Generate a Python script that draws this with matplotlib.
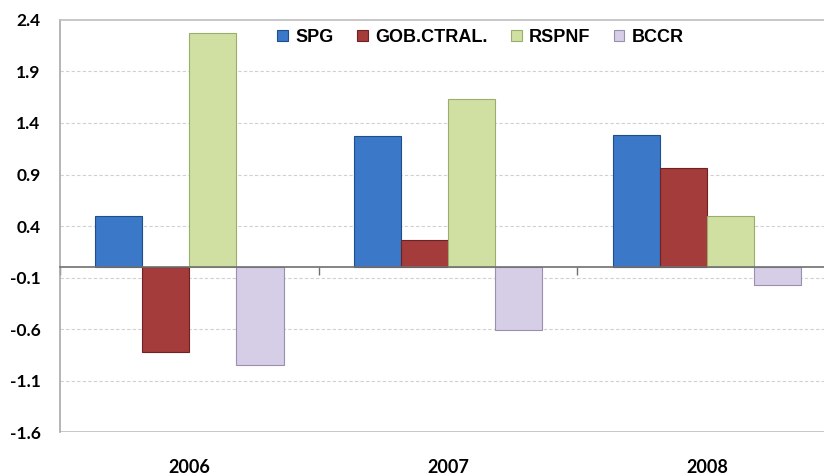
import matplotlib.pyplot as plt
import numpy as np

years = ['2006', '2007', '2008']
series = ['SPG', 'GOB.CTRAL.', 'RSPNF', 'BCCR']
spg = [0.50, 1.27, 1.28]
gob = [-0.82, 0.26, 0.96]
rspnf = [2.27, 1.63, 0.50]
bccr = [-0.95, -0.61, -0.17]

colors = ['#3b78c8', '#a33c3b', '#d0e0a2', '#d6cde6']
edges = ['#1f4e8c', '#6e2222', '#9aae6c', '#9a8fb0']

yticks = np.arange(-1.6, 2.41, 0.5)

fig = plt.figure(figsize=(8.24, 4.76), dpi=100)
# the plot area runs past the right edge of the picture, as in the original
ax = fig.add_axes([0.0728, 0.0924, 0.942, 0.8656])

x = np.arange(len(years))
w = 0.182
for i, vals in enumerate([spg, gob, rspnf, bccr]):
    ax.bar(x + (i - 1.5) * w, vals, w, color=colors[i], edgecolor=edges[i],
           linewidth=0.8, label=series[i], zorder=3)

ax.set_xlim(-0.5, 2.5)
ax.set_ylim(-1.6, 2.4)
ax.set_yticks(yticks)
ax.set_yticklabels(['%.1f' % v for v in yticks], fontsize=12.5,
                   fontweight='bold', family='Lato')
ax.tick_params(axis='y', length=0, pad=14)

for v in yticks[1:-1]:
    ax.axhline(v, color='#d0d0d0', lw=0.8, ls=(0, (3, 2)), zorder=1)
ax.axhline(-1.6, color='#bdbdbd', lw=1.2, zorder=1)

for s in ['right']:
    ax.spines[s].set_visible(False)
ax.spines['top'].set_color('#bdbdbd')
ax.spines['top'].set_linewidth(1.2)
ax.spines['left'].set_color('#a8a8a8')
ax.spines['left'].set_linewidth(1.2)
ax.spines['bottom'].set_position(('data', 0))
ax.spines['bottom'].set_color('#707070')
ax.spines['bottom'].set_linewidth(1.2)
ax.spines['bottom'].set_zorder(4)

ax.set_xticks(np.arange(len(years) + 1) - 0.5)
ax.set_xticklabels([])
ax.tick_params(axis='x', length=6, width=1, color='#707070', direction='out')

for xi, yr in zip(x, years):
    ax.text(xi, -0.085, yr, transform=ax.get_xaxis_transform(), ha='center',
            va='center', fontsize=13, fontweight='bold', family='Lato')

fig.legend(loc='center', bbox_to_anchor=(0.583, 0.922), ncol=4, frameon=False,
           prop={'family': 'Liberation Sans', 'weight': 'bold', 'size': 13},
           handlelength=0.6, handleheight=0.6, handletextpad=0.4,
           columnspacing=1.3)

fig.savefig('out.png', dpi=100)
